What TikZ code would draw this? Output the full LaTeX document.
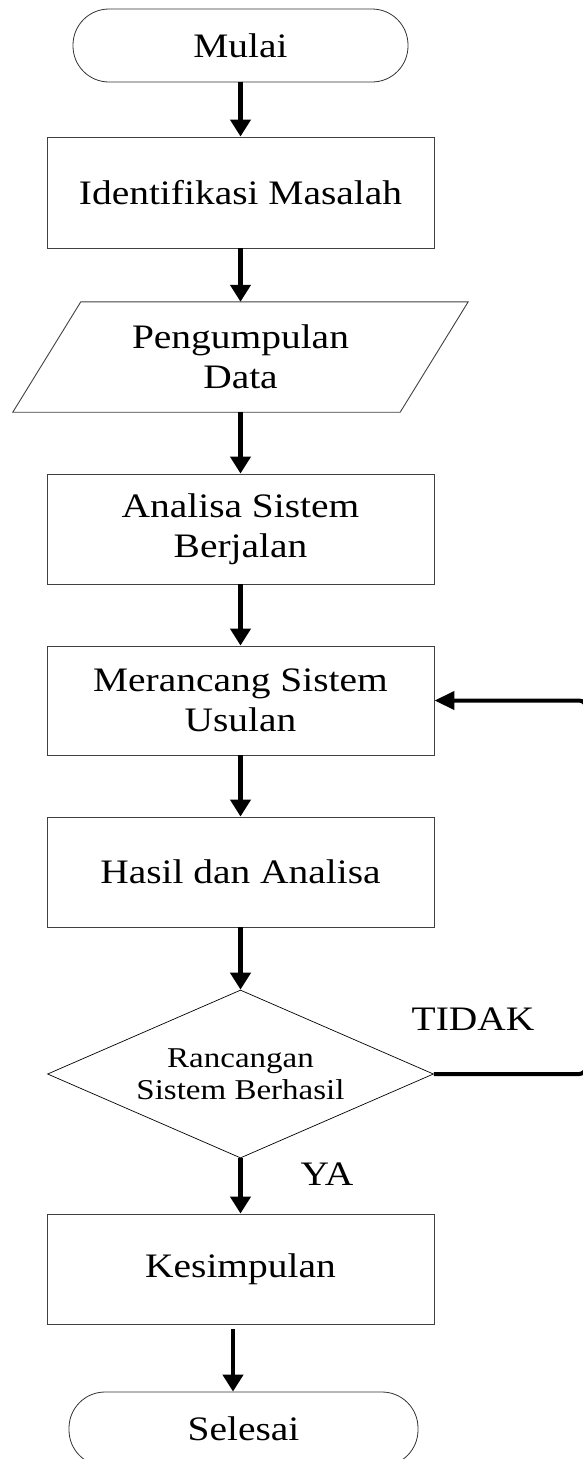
\documentclass[tikz,border=0pt]{standalone}
\usepackage{fontspec}
\setmainfont{Liberation Serif}[FakeStretch=1.15]
\usetikzlibrary{shapes.geometric,arrows.meta}

\begin{document}
\begin{tikzpicture}[x=1pt,y=-1pt,
  txt/.style={font=\fontsize{34.3}{40}\selectfont, align=center},
  box/.style={txt, draw=black!75, line width=0.9pt, minimum width=387pt,
    minimum height=111pt, inner sep=0pt},
  ioshape/.style={txt, minimum width=387pt, minimum height=110pt, inner sep=0pt},
  term/.style={txt, draw=black!80, line width=0.8pt, rounded corners=36pt,
    minimum width=335pt, minimum height=73pt, inner sep=0pt},
  decision/.style={diamond, draw=black, line width=0.7pt, aspect=2.3,
    minimum width=386pt, minimum height=168pt, inner sep=0pt, align=center,
    font=\fontsize{28.7}{32}\selectfont},
  lbl/.style={font=\fontsize{34.3}{40}\selectfont, inner sep=0pt},
  arr/.style={line width=4.8pt, -{Triangle[width=20pt,length=17pt]}},
  loopline/.style={line width=4pt, rounded corners=7pt,
    -{Triangle[width=18pt,length=20pt]}}
]
\useasboundingbox (0,0) rectangle (583,1459);
\clip (0,0) rectangle (583,1459);

% process steps
\node[term] (mulai) at (240.5,45.5) {Mulai};
\node[box] (ident) at (240.5,192.5) {Identifikasi Masalah};
\node[ioshape] (data) at (240.5,357) {Pengumpulan\\Data};
\draw[draw=black!75, line width=0.9pt]
  ([xshift=34pt]data.north west) -- ([xshift=34pt]data.north east) --
  ([xshift=-34pt]data.south east) -- ([xshift=-34pt]data.south west) -- cycle;
\node[box, minimum height=110pt] (analisa) at (240.5,529) {Analisa Sistem\\Berjalan};
\node[box, minimum height=109pt] (rancang) at (240.5,700.5) {Merancang Sistem\\Usulan};
\node[box, minimum height=110pt] (hasil) at (240.5,872) {Hasil dan Analisa};
\node[decision] (dec) at (240.5,1074) {Rancangan\\Sistem Berhasil};
\node[box, minimum height=110pt] (kes) at (240.5,1269) {Kesimpulan};
\node[term, minimum width=349pt, minimum height=74pt] (sel) at (243.5,1429) {Selesai};

% branch labels
\node[lbl] (tidak) at (473,1019) {TIDAK};
\node[lbl] (ya) at (327,1174) {YA};

% main flow
\draw[arr] (mulai) -- (ident);
\draw[arr] (ident) -- (data);
\draw[arr] (data) -- (analisa);
\draw[arr] (analisa) -- (rancang);
\draw[arr] (rancang) -- (hasil);
\draw[arr] (hasil) -- (dec);
\draw[arr] (dec) -- (kes);
\draw[arr] ([xshift=-7.5pt,yshift=-5pt]kes.south) -- ([xshift=-7.5pt]kes.south |- sel.north);

% loop back when the design fails
\coordinate (loopbot) at (586,1074);
\coordinate (looptop) at (586,700.5);
\draw[loopline] (dec.east) -- (loopbot) -- (looptop) -- (rancang.east);
\end{tikzpicture}
\end{document}
